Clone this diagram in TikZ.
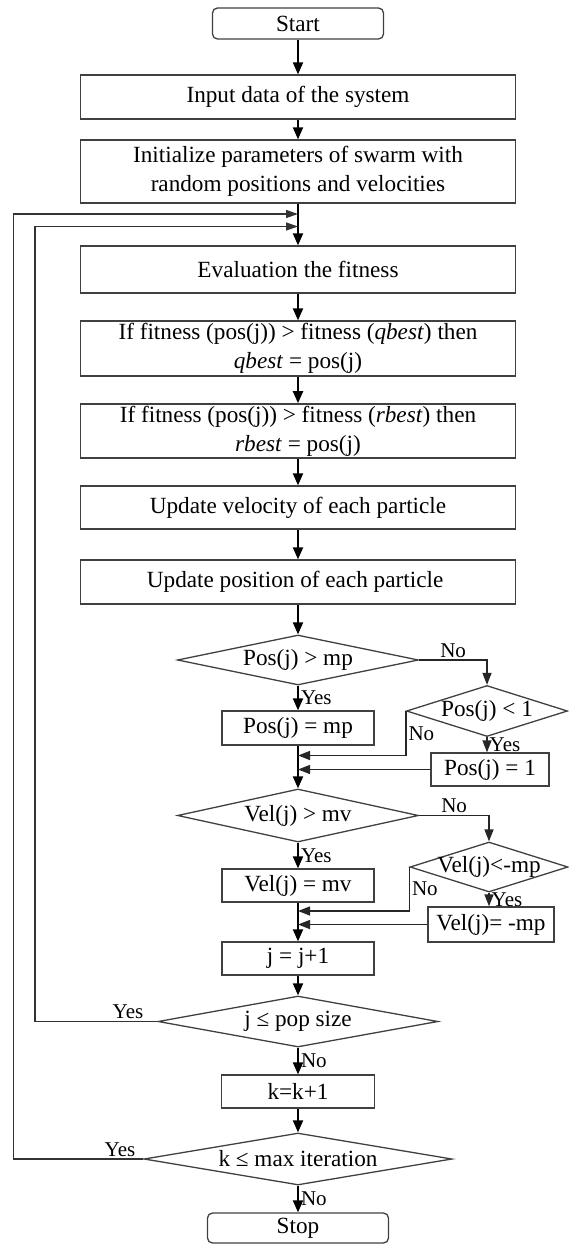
\documentclass[tikz,border=0pt]{standalone}
\usepackage{fontspec}
\setmainfont{Liberation Serif}
\usetikzlibrary{arrows.meta}
\usetikzlibrary{shapes.geometric}
\usetikzlibrary{calc}
\tikzset{basic box/.style={draw=black!75,line width=.65pt,inner sep=1pt,align=center}}
\tikzset{process/.style={basic box,minimum width=217.5pt}}
\tikzset{small box/.style={basic box,minimum height=16.5pt}}
\tikzset{terminal/.style={basic box,rounded corners=2.5pt}}
\tikzset{decision/.style={basic box,diamond,inner sep=0pt}}
\tikzset{flow/.style={draw,line width=1pt,
                      -{Triangle[length=6pt,width=5pt]}}}
\tikzset{branch/.style={draw=black!85,line width=.7pt,
                        -{Triangle[length=6pt,width=4.5pt]}}}
\tikzset{back flow/.style={draw=black!80,line width=.7pt,
                           -{Triangle[length=6pt,width=4pt]}}}
\newcommand{\QB}{\textit{qbest}}
\newcommand{\RB}{\textit{rbest}}

\begin{document}
\begin{tikzpicture}
      [
      x=.5pt,y=-.5pt,
      font=\fontsize{11.6}{14.5}\selectfont,
      lbl/.style={font=\fontsize{10.5}{12}\selectfont,inner sep=1pt},
      ]
      \useasboundingbox (0,0) rectangle (568,1245);

      % terminals
      \node [terminal,minimum width=85.5pt,minimum height=15.5pt] (start) at (298,23.5) {Start};
      \node [terminal,minimum width=90.5pt,minimum height=15pt] (stop) at (298,1228) {Stop};

      % main column
      \foreach \n/\y/\h/\txt in
      {
      input/97/22/Input data of the system,
      init/171.5/31.5/Initialize parameters of swarm with\\random positions and velocities,
      eval/269.5/23.5/Evaluation the fitness,
      qb/348.5/27.5/If fitness (pos(j)) > fitness (\QB) then\\\QB{} = pos(j),
      rb/431/27/If fitness (pos(j)) > fitness (\RB) then\\\RB{} = pos(j),
      uv/507.5/21.5/Update velocity of each particle,
      up/582/22/Update position of each particle
      }
      {
      \node [process,minimum height=\h pt] (\n) at (298,\y) {\txt};
      }

      % small boxes
      \node [small box,minimum width=76pt,minimum height=17pt] (pmp) at (298,728) {Pos(j) = mp};
      \node [small box,minimum width=59pt] (pone) at (490,769.5) {Pos(j) = 1};
      \node [small box,minimum width=76pt] (vmv) at (298,885.5) {Vel(j) = mv};
      \node [small box,minimum width=63pt,minimum height=17.5pt] (vmp) at (491,924.5) {Vel(j)= -mp};
      \node [small box,minimum width=76pt] (jinc) at (298,958.5) {j = j+1};
      \node [small box,minimum width=76.5pt] (kinc) at (298,1091.5) {k=k+1};

      % decisions
      \node [decision,minimum width=120.5pt,minimum height=25pt,
      label=center:{Pos(j) > mp}] (dpos) at (298,660) {};
      \node [decision,minimum width=80.5pt,minimum height=25.5pt,
      label=center:{Pos(j) < 1}] (dpos1) at (487,711) {};
      \node [decision,minimum width=120.5pt,minimum height=26.5pt,
      label=center:{Vel(j) > mv}] (dvel) at (298,815.5) {};
      \node [decision,minimum width=79pt,minimum height=25pt,
      label=center:{Vel(j)<-mp}] (dvel1) at (489,867) {};
      \node [decision,minimum width=140pt,minimum height=25.5pt,
      label=center:{j ≤ pop size}] (djpop) at (298,1021.5) {};
      \node [decision,minimum width=154pt,minimum height=26pt,
      label=center:{k ≤ max iteration}] (dkmax) at (298,1159) {};

      % merge points on the main line
      \coordinate (mpos) at (298,755.5);
      \coordinate (mvel) at (298,911);
      \coordinate (jback) at (35,226.5);
      \coordinate (kback) at (13.5,214);

      % edges
      \foreach \a/\b in {start/input,input/init,init/eval,eval/qb,qb/rb,rb/uv,uv/up,
                         up/dpos,pmp/dvel,vmv/jinc,jinc/djpop,kinc/dkmax}
      \path [flow] (\a) -- (\b);

      \path [flow] (dpos) -- node [right,lbl] {Yes} (pmp);
      \path [flow] (dvel) -- node [right,lbl] {Yes} (vmv);
      \path [flow] (djpop) -- node [right,lbl] {No} (kinc);
      \path [flow] (dkmax) -- node [right,lbl] {No} (stop);

      % side branches
      \path [branch] (dpos.east) -| node [pos=0.25,above,lbl] {No} (dpos1.north);
      \path [branch] (dpos1.south) -- node [right,lbl] {Yes} (dpos1.south |- pone.north);
      \path [branch] (dpos1.west) |- node [pos=0.25,right,lbl] {No} (mpos);
      \path [branch] (pone) -- (pone -| mpos);

      \path [branch] (dvel.east) -| node [pos=0.25,above,lbl] {No} (dvel1.north);
      \path [branch] (dvel1.south) -- node [right,lbl] {Yes} (dvel1.south |- vmp.north);
      \path [branch] (dvel1.west) |- node [pos=0.25,right,lbl] {No} (mvel);
      \path [branch] (vmp) -- (vmp -| mvel);

      % loops back
      \path [back flow] (djpop.west) -| node [pos=0.12,above,lbl] {Yes}
      (jback) -- (jback -| eval.north);
      \path [back flow] (dkmax.west) -| node [pos=0.09,above,lbl] {Yes}
      (kback) -- (kback -| eval.north);

    \end{tikzpicture}
\end{document}
